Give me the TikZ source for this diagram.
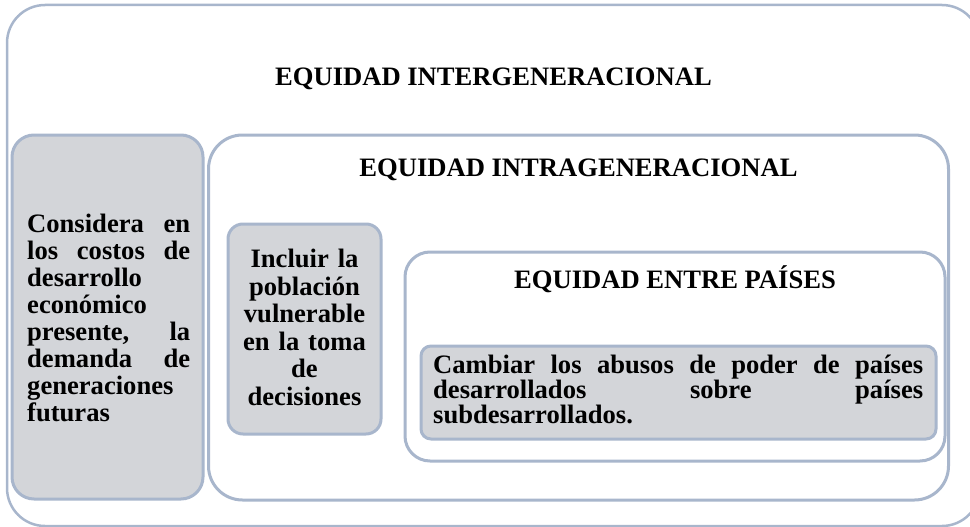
\documentclass[tikz,border=0pt]{standalone}
\usepackage{fontspec}
\setmainfont{Liberation Serif}
\definecolor{frameblue}{HTML}{A8B6CC}
\definecolor{boxgray}{HTML}{D3D5D9}

\begin{document}
\begin{tikzpicture}[x=1pt,y=-1pt,
  panel/.style={draw=frameblue,line width=3pt,rounded corners=#1,fill=white,inner sep=0pt},
  graypanel/.style={panel=#1,fill=boxgray},
  txt/.style={font=\bfseries\fontsize{26.6}{#1}\selectfont,inner sep=0pt}]
\path[use as bounding box,clip] (0,0) rectangle (970,527);

\node[panel=38,line width=2.5pt,minimum width=973pt,minimum height=521pt] (inter) at (493.5,265.5) {};
\node[graypanel=22,minimum width=191pt,minimum height=364pt] (costos) at (107.5,317) {};
\node[panel=34,minimum width=740pt,minimum height=365pt] (intra) at (578.5,317.5) {};
\node[graypanel=15,minimum width=153pt,minimum height=210pt] (incluir) at (304.5,329) {};
\node[panel=25,minimum width=540pt,minimum height=209pt] (paises) at (675,356.5) {};
\node[graypanel=10,minimum width=515pt,minimum height=93pt] (abusos) at (678.5,392.5) {};

\node[txt=30,anchor=base] (intertitle) at (493.5,86) {EQUIDAD INTERGENERACIONAL};
\node[txt=30,anchor=base] (intratitle) at (578.5,176) {EQUIDAD INTRAGENERACIONAL};
\node[txt=30,anchor=base] (paisestitle) at (675,288) {EQUIDAD ENTRE PAÍSES};

\node[txt=27.1,anchor=base west,text width=163pt,align=left] (costostext) at (27,232)
  {Considera\hfill en\\los\hfill costos\hfill de\\desarrollo\\económico\\presente,\hfill la\\demanda\hfill de\\generaciones\\futuras};
\node[txt=27.5,anchor=base,text width=150pt,align=center] (incluirtext) at (304.5,267.7)
  {Incluir la\\población\\vulnerable\\en la toma\\de\\decisiones};
\node[txt=23.5,anchor=base west,text width=490pt,align=left] (abusostext) at (433,373)
  {Cambiar\hfill los\hfill abusos\hfill de\hfill poder\hfill de\hfill países\\desarrollados\hfill sobre\hfill países\\subdesarrollados.};
\end{tikzpicture}
\end{document}
